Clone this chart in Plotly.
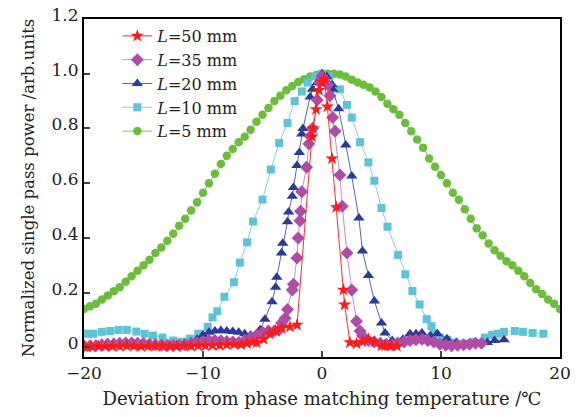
import plotly.graph_objects as go

# L = 5 mm
x_5 = [-20, -19.5, -19, -18.5, -18, -17.5, -17, -16.5, -16, -15.5, -15, -14.5, -14, -13.5, -13, -12.5,
       -12, -11.5, -11, -10.5, -10, -9.5, -9, -8.5, -8, -7.5, -7, -6.5, -6, -5.5, -5, -4.5, -4, -3.5,
       -3, -2.5, -2, -1.5, -1, -0.5, 0, 0.5, 1, 1.5, 2, 2.5, 3, 3.5, 4, 4.5, 5, 5.5, 6, 6.5, 7, 7.5,
       8, 8.5, 9, 9.5, 10, 10.5, 11, 11.5, 12, 12.5, 13, 13.5, 14, 14.5, 15, 15.5, 16, 16.5, 17, 17.5,
       18, 18.5, 19, 19.5, 20]
y_5 = [0.14, 0.15, 0.16, 0.175, 0.19, 0.205, 0.22, 0.24, 0.26, 0.28, 0.30, 0.32, 0.345, 0.365, 0.39, 0.415,
       0.445, 0.47, 0.50, 0.53, 0.565, 0.60, 0.635, 0.67, 0.70, 0.725, 0.75, 0.77, 0.795, 0.825, 0.85, 0.875, 0.90, 0.92,
       0.94, 0.955, 0.97, 0.98, 0.99, 0.995, 1.0, 1.0, 1.0, 0.997, 0.99, 0.978, 0.968, 0.96, 0.95, 0.935, 0.915, 0.89, 0.87, 0.85, 0.82, 0.79,
       0.76, 0.73, 0.69, 0.66, 0.63, 0.60, 0.565, 0.54, 0.505, 0.47, 0.435, 0.41, 0.38, 0.355, 0.335, 0.315, 0.30, 0.28, 0.26, 0.235,
       0.213, 0.195, 0.175, 0.16, 0.14]

# L = 10 mm
x_10 = [-19.7, -19.2, -18.5, -17.8, -17.1, -16.4, -15.6, -14.9, -14.2, -13.4, -12.5, -11.8, -11.1, -10.4,
        -9.6, -9.2, -8.8, -8.2, -7.4, -6.9, -6.3, -5.8, -5.0, -4.3, -3.6, -2.9, -2.3, -1.7, -1.2, -0.6, 0,
        0.6, 1.5, 2.1, 2.5, 3.2, 3.9, 4.4, 5.0, 5.5, 6.4, 7.0, 7.6, 8.2, 8.8, 9.2, 9.4, 9.9, 10.5, 11.1,
        11.8, 12.7, 13.7, 14.3, 14.8, 15.3, 16.2, 16.9, 17.7, 18.6]
y_10 = [0.05, 0.05, 0.057, 0.06, 0.064, 0.064, 0.058, 0.05, 0.043, 0.036, 0.025, 0.021, 0.032, 0.05,
        0.075, 0.11, 0.132, 0.185, 0.238, 0.31, 0.384, 0.46, 0.54, 0.65, 0.747, 0.82, 0.90, 0.935, 0.968, 0.99, 1.0,
        0.99, 0.943, 0.886, 0.84, 0.75, 0.676, 0.609, 0.509, 0.441, 0.338, 0.267, 0.206, 0.157, 0.103, 0.078, 0.053, 0.036, 0.028, 0.018,
        0.014, 0.02, 0.036, 0.046, 0.05, 0.057, 0.06, 0.057, 0.053, 0.05]

# L = 20 mm
x_20 = [-20, -19.5, -19, -18.5, -18, -17.5, -17, -16.5, -16, -15.5, -15, -14.5, -14, -13.5, -13, -12.5,
        -12, -11.5, -11, -10.5, -10, -9.5, -9, -8.5, -8, -7.5, -7, -6.5, -6, -5.5, -5.2, -4.8, -4.2, -3.9,
        -3.8, -3.4, -3.3, -2.9, -2.8, -2.5, -2.4, -2.1, -1.9, -1.7, -1.6, -1.0, -0.8, -0.4, 0, 0.4, 0.84,
        0.9, 1.4, 2.0, 2.5, 3.1, 3.4, 3.9, 4.4, 5.0, 5.3, 5.9, 6.3, 6.8, 7.4, 7.9, 8.4, 9.1, 9.7, 10.5,
        11.3, 12.2, 13.0, 13.9, 14.5, 15.3]
y_20 = [0.008, 0.01, 0.012, 0.015, 0.018, 0.018, 0.02, 0.018, 0.016, 0.014, 0.012, 0.012, 0.012, 0.01, 0.01, 0.01,
        0.012, 0.015, 0.02, 0.03, 0.045, 0.055, 0.06, 0.062, 0.06, 0.058, 0.055, 0.05, 0.045, 0.04, 0.065, 0.103, 0.167, 0.22,
        0.256, 0.345, 0.381, 0.459, 0.495, 0.552, 0.584, 0.665, 0.712, 0.78, 0.80, 0.915, 0.943, 0.968, 1.0, 0.99, 0.96,
        0.943, 0.872, 0.74, 0.626, 0.473, 0.352, 0.263, 0.17, 0.089, 0.053, 0.025, 0.018, 0.03, 0.05, 0.05, 0.053, 0.043, 0.05, 0.032,
        0.018, 0.011, 0.014, 0.018, 0.025, 0.028]

# L = 35 mm
x_35 = [-20, -19.5, -19, -18.5, -18, -17.5, -17, -16.5, -16, -15.5, -15, -14.5, -14, -13.5, -13, -12.5,
        -12, -11.5, -11, -10.5, -10, -9.5, -9, -8.5, -8, -7.5, -7, -6.5, -6, -5.5, -5, -4.5, -4, -3.6,
        -3.4, -3.1, -2.9, -2.5, -2.4, -2.1, -2.0, -1.85, -1.8, -1.7, -1.3, -1.1, -1.0, -0.8, -0.4, -0.2, 0,
        0.5, 0.67, 0.9, 1.1, 1.5, 1.7, 2.1, 2.5, 2.9, 3.2, 3.4, 3.9, 4.4, 4.9, 5.4, 5.9, 6.4, 6.9, 7.4,
        7.9, 8.4, 8.9, 9.4, 9.9, 10.4, 10.9, 11.4, 11.9, 12.4, 12.9, 13.4]
y_35 = [0.005, 0.005, 0.006, 0.008, 0.01, 0.012, 0.014, 0.016, 0.016, 0.015, 0.014, 0.012, 0.01, 0.008, 0.007, 0.007,
        0.008, 0.01, 0.014, 0.018, 0.022, 0.025, 0.025, 0.024, 0.022, 0.02, 0.018, 0.025, 0.035, 0.045, 0.055, 0.06, 0.06, 0.065,
        0.089, 0.107, 0.139, 0.21, 0.231, 0.327, 0.40, 0.463, 0.498, 0.569, 0.658, 0.744, 0.772, 0.80, 0.904, 0.968, 0.99,
        0.96, 0.92, 0.84, 0.79, 0.63, 0.516, 0.345, 0.21, 0.096, 0.06, 0.043, 0.025, 0.02, 0.015, 0.012, 0.01, 0.015, 0.02, 0.025,
        0.028, 0.03, 0.025, 0.02, 0.012, 0.008, 0.006, 0.008, 0.01, 0.012, 0.015, 0.015]

# L = 50 mm
x_50 = [-20, -19.4, -18.8, -18.2, -17.6, -17, -16.4, -15.8, -15.2, -14.6, -14, -13.4, -12.8, -12.2, -11.6,
        -11, -10.4, -9.8, -9.2, -8.6, -8, -7.4, -6.8, -6.3, -5.8, -5.5, -4.9, -4.4, -3.9, -3.4, -2.7, -2.1,
        -0.85, -0.75, -0.5, -0.25, 0, 0.2, 0.45, 0.84, 1.2, 1.8, 1.9, 2.35, 2.9, 3.4, 3.9, 4.4, 5.0, 5.3, 5.8, 6.3]
y_50 = [0.004, 0.004, 0.005, 0.005, 0.004, 0.005, 0.006, 0.005, 0.004, 0.005, 0.006, 0.005, 0.004, 0.005, 0.006,
        0.005, 0.006, 0.007, 0.008, 0.008, 0.01, 0.012, 0.01, 0.015, 0.02, 0.018, 0.03, 0.05, 0.06, 0.07, 0.075, 0.082,
        0.77, 0.80, 0.87, 0.94, 0.97, 0.98, 0.88, 0.69, 0.512, 0.21, 0.156, 0.018, 0.014, 0.02, 0.03, 0.02, 0.007, 0.007, 0.006, 0.005]

font = 'DejaVu Serif'

fig = go.Figure()

fig.add_trace(go.Scatter(x=x_5, y=y_5, mode='lines+markers', name='<i>L</i>=5 mm',
                         line=dict(color='#7cc653', width=1),
                         marker=dict(symbol='circle', size=8.5, color='#6cbd3c')))
fig.add_trace(go.Scatter(x=x_10, y=y_10, mode='lines+markers', name='<i>L</i>=10 mm',
                         line=dict(color='#7fd3e0', width=1),
                         marker=dict(symbol='square', size=8, color='#5cc4d6')))
fig.add_trace(go.Scatter(x=x_20, y=y_20, mode='lines+markers', name='<i>L</i>=20 mm',
                         line=dict(color='#5a62b4', width=1),
                         marker=dict(symbol='triangle-up', size=10, color='#2b3b98')))
fig.add_trace(go.Scatter(x=x_35, y=y_35, mode='lines+markers', name='<i>L</i>=35 mm',
                         line=dict(color='#d08ccb', width=1),
                         marker=dict(symbol='diamond', size=10, color='#b04ca6')))
fig.add_trace(go.Scatter(x=x_50, y=y_50, mode='lines+markers', name='<i>L</i>=50 mm',
                         line=dict(color='#ff2a2a', width=1),
                         marker=dict(symbol='star', size=10, color='#ff1a1a')))

# the page body adds 8 px around the figure, so the figure is 8 px smaller each way
fig.update_layout(
    width=573, height=409,
    margin=dict(l=76, r=21, t=9, b=60),
    plot_bgcolor='white', paper_bgcolor='white',
    font=dict(family=font, size=16, color='#222222'),
    legend=dict(x=0.07, y=1.0, xanchor='left', yanchor='top', traceorder='reversed',
                bgcolor='rgba(0,0,0,0)', font=dict(size=16), itemwidth=30),
    xaxis=dict(title=dict(text='Deviation from phase matching temperature /℃', font=dict(size=18), standoff=10),
               range=[-20, 20], tickvals=[-20, -10, 0, 10, 20], ticks='inside', ticklen=6, tickwidth=2,
               showline=True, linewidth=2, linecolor='black', mirror=True, showgrid=False, zeroline=False,
               tickfont=dict(size=17)),
    yaxis=dict(title=dict(text='Normalized single pass power /arb.units', font=dict(size=16.5), standoff=13),
               range=[-0.035, 1.2], tickvals=[0, 0.2, 0.4, 0.6, 0.8, 1.0, 1.2],
               ticktext=['0', '0.2', '0.4', '0.6', '0.8', '1.0', '1.2'], ticks='inside', ticklen=6, tickwidth=2,
               ticklabelshift=-4, ticklabeloverflow='allow', automargin='left',
               showline=True, linewidth=2, linecolor='black', mirror=True, showgrid=False, zeroline=False,
               tickfont=dict(size=17)),
)

fig.write_html("out.html")
